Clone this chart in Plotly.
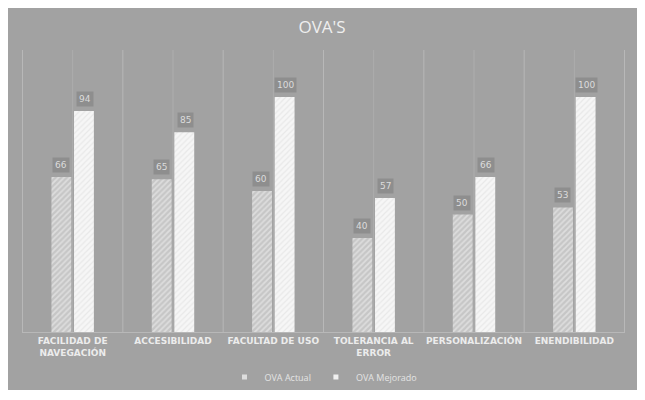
import plotly.graph_objects as go

categorias = ["FACILIDAD DE<br>NAVEGACIÓN", "ACCESIBILIDAD", "FACULTAD DE USO",
              "TOLERANCIA AL<br>ERROR", "PERSONALIZACIÓN", "ENENDIBILIDAD"]
ova_actual = [66, 65, 60, 40, 50, 53]
ova_mejorado = [94, 85, 100, 57, 66, 100]

fondo = "#a2a2a2"
texto = "#efefef"

# el navegador deja 8px de margen en el body, asi que todo va corrido
L, T, W, H = 14, 42, 603, 282

fig = go.Figure()

fig.add_trace(go.Bar(
    x=categorias, y=ova_actual, name="OVA Actual", showlegend=False,
    marker=dict(color="#d2d2d2", line=dict(width=0),
                pattern=dict(shape="/", fgcolor="#f4f4f4", bgcolor="#c6c6c6", size=4, solidity=0.45)),
))
fig.add_trace(go.Bar(
    x=categorias, y=ova_mejorado, name="OVA Mejorado", showlegend=False,
    marker=dict(color="#ececec", line=dict(width=0),
                pattern=dict(shape="/", fgcolor="#dadada", bgcolor="#f6f6f6", size=4, solidity=0.3)),
))

# entradas de leyenda con marcador pequeno
fig.add_trace(go.Scatter(x=[None], y=[None], mode="markers", name="OVA Actual",
                         marker=dict(symbol="square", size=5, color="#dddddd")))
fig.add_trace(go.Scatter(x=[None], y=[None], mode="markers", name="OVA Mejorado",
                         marker=dict(symbol="square", size=5, color="#f0f0f0")))

# etiquetas de datos con caja
for serie, desp in [(ova_actual, -12), (ova_mejorado, 12)]:
    for cat, val in zip(categorias, serie):
        fig.add_annotation(x=cat, y=val, text=str(val), showarrow=False,
                           xshift=desp, yshift=12, bgcolor="#8e8e8e",
                           font=dict(family="DejaVu Sans", size=9, color="#dcdcdc"),
                           borderpad=2)

# fondo gris del grafico (con borde blanco alrededor)
fig.add_shape(type="rect", xref="paper", yref="paper",
              x0=(0 - L) / W, x1=(629 - L) / W,
              y0=(T + H - 382) / H, y1=(T + H - 0) / H,
              fillcolor=fondo, line=dict(width=0), layer="below")

# lineas verticales de la cuadricula
for i in range(len(categorias) + 1):
    fig.add_shape(type="line", xref="x", yref="paper", x0=i - 0.5, x1=i - 0.5, y0=0, y1=1,
                  line=dict(color="#b8b8b8", width=1), layer="below")
for cat in categorias:
    fig.add_shape(type="line", xref="x", yref="paper", x0=cat, x1=cat, y0=0, y1=1,
                  line=dict(color="#aeaeae", width=1), layer="below")

fig.update_layout(
    width=645, height=400,
    margin=dict(l=L, r=645 - L - W, t=T, b=400 - T - H),
    paper_bgcolor="white",
    plot_bgcolor="rgba(0,0,0,0)",
    barmode="group", bargap=0.55, bargroupgap=0.12,
    title=dict(text="OVA'S", x=(314 - L) / 645 + L / 645, xanchor="center",
               y=1 - 19 / 400, yanchor="middle",
               font=dict(family="Open Sans", size=17, color=texto)),
    font=dict(family="DejaVu Sans", color=texto),
    showlegend=True,
    legend=dict(orientation="h", x=0.5, xanchor="center", y=-(369 - T - H) / H, yanchor="middle",
                font=dict(family="Open Sans", size=9, color="#e4e4e4"),
                itemwidth=30, tracegroupgap=0, bgcolor="rgba(0,0,0,0)"),
    xaxis=dict(showgrid=False, showline=True, linecolor="#b8b8b8", linewidth=1,
               ticks="", tickfont=dict(family="DejaVu Sans", size=9, color="#ececec", weight="bold")),
    yaxis=dict(range=[0, 120], visible=False, showgrid=False, zeroline=False),
)

fig.write_html("out.html")
